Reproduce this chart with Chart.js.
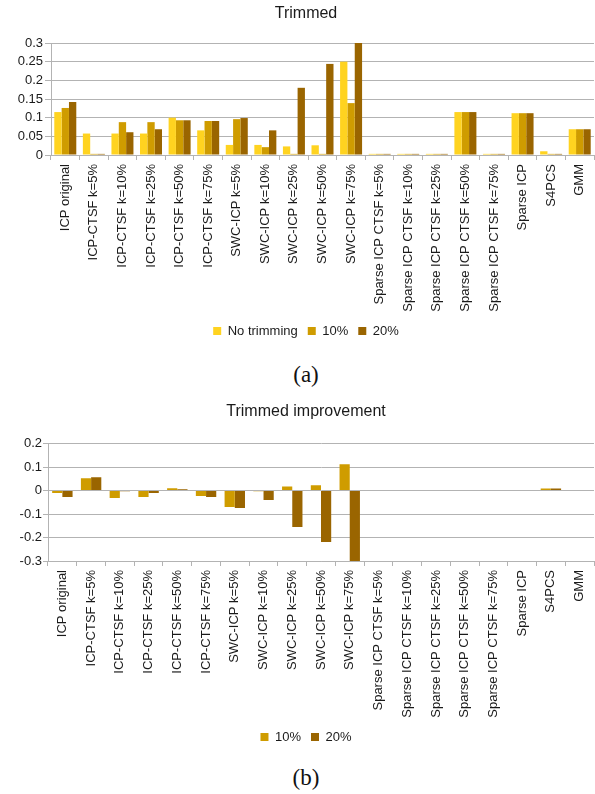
<!DOCTYPE html>
<html>
<head>
<meta charset="utf-8">
<script src="https://cdn.jsdelivr.net/npm/chart.js@4/dist/chart.umd.min.js"></script>
<style>
  html, body { margin: 0; padding: 0; background: #fff; overflow: hidden; width: 595px; height: 794px; }
  .box { position: absolute; left: 0; }
  canvas { display: block; }
  .cap { position: absolute; left: 0; width: 612px; text-align: center;
         font-family: "Liberation Serif", "Times New Roman", serif; font-size: 23px; color: #111; line-height: 26px; }
</style>
</head>
<body>
<div class="box" style="top:0px;"><canvas id="trimmed" width="612" height="350"></canvas></div>
<div class="cap" style="top:362px;">(a)</div>
<div class="box" style="top:390px;"><canvas id="improvement" width="612" height="366"></canvas></div>
<div class="cap" style="top:765px;">(b)</div>
<script>
// Methods compared
const categories = [
  'ICP original', 'ICP-CTSF k=5%', 'ICP-CTSF k=10%', 'ICP-CTSF k=25%', 'ICP-CTSF k=50%',
  'ICP-CTSF k=75%', 'SWC-ICP k=5%', 'SWC-ICP k=10%', 'SWC-ICP k=25%', 'SWC-ICP k=50%',
  'SWC-ICP k=75%', 'Sparse ICP CTSF k=5%', 'Sparse ICP CTSF k=10%', 'Sparse ICP CTSF k=25%',
  'Sparse ICP CTSF k=50%', 'Sparse ICP CTSF k=75%', 'Sparse ICP', 'S4PCS', 'GMM'
];

// (a) error with and without trimming
const noTrimming = [0.115, 0.0575, 0.0575, 0.0575, 0.1, 0.066, 0.027, 0.027, 0.023, 0.026, 0.25,
                    0.003, 0.003, 0.003, 0.115, 0.003, 0.112, 0.01, 0.069];
const trim10 =     [0.126, 0.003, 0.088, 0.088, 0.093, 0.091, 0.096, 0.021, 0.003, 0.003, 0.139,
                    0.003, 0.003, 0.003, 0.115, 0.003, 0.112, 0.003, 0.069];
const trim20 =     [0.142, 0.003, 0.061, 0.069, 0.093, 0.091, 0.099, 0.066, 0.18, 0.244, 0.3,
                    0.003, 0.003, 0.003, 0.115, 0.003, 0.112, 0.003, 0.069];

// (b) improvement brought by trimming
const improve10 = [-0.01, 0.053, -0.031, -0.027, 0.01, -0.023, -0.07, -0.003, 0.018, 0.023, 0.112,
                   -0.002, -0.002, -0.002, -0.002, -0.002, -0.002, 0.009, -0.002];
const improve20 = [-0.027, 0.057, -0.003, -0.01, 0.006, -0.027, -0.074, -0.04, -0.155, -0.219, -0.3,
                   -0.002, -0.002, -0.002, -0.002, -0.002, -0.002, 0.009, -0.002];

// Value axis ticks
const trimmedTicks = [0, 0.05, 0.1, 0.15, 0.2, 0.25, 0.3];
const improvementTicks = [-0.3, -0.2, -0.1, 0, 0.1, 0.2];

const FONT = '"Liberation Sans", Arial, sans-serif';
const TEXT = '#1a1a1a';
const GRID = '#b3b3b3';
const COLORS = { none: '#ffd320', t10: '#cf9c00', t20: '#9a6500' };

function buildChart(id, opts) {
  return new Chart(document.getElementById(id), {
    type: 'bar',
    data: { labels: categories, datasets: opts.datasets },
    options: {
      responsive: false,
      animation: false,
      layout: { padding: { left: 0, right: 0, top: 0, bottom: 2.5 } },
      datasets: { bar: { categoryPercentage: opts.catPct, barPercentage: 1, borderWidth: 0, yAxisID: 'y' } },
      plugins: {
        title: {
          display: true, text: opts.title, color: TEXT,
          font: { family: FONT, size: 16, weight: 'normal' },
          padding: opts.titlePad
        },
        legend: {
          position: 'bottom',
          labels: { boxWidth: 8, boxHeight: 8, padding: 10, color: TEXT, font: { family: FONT, size: 13 } }
        },
        tooltip: { enabled: false }
      },
      scales: {
        x: {
          offset: true,
          grid: { drawOnChartArea: false, drawTicks: true, tickLength: 5, color: GRID, offset: true },
          border: { display: true, color: GRID },
          ticks: { autoSkip: false, minRotation: 90, maxRotation: 90, padding: 4, color: TEXT,
                   font: { family: FONT, size: 13 } },
          afterFit: s => { s.height = 159.5; }
        },
        y: {
          position: 'left',
          min: opts.ticks[0], max: opts.ticks[opts.ticks.length - 1],
          afterBuildTicks: s => { s.ticks = opts.ticks.map(v => ({ value: v })); },
          grid: { color: GRID, lineWidth: 1, tickLength: opts.tickLen, drawTicks: true },
          border: { display: true, color: GRID },
          ticks: { padding: opts.tickPad, color: TEXT, font: { family: FONT, size: 13 },
                   callback: v => String(Math.round(v * 100) / 100) },
          afterFit: s => { s.width = opts.yWidth; }
        },
        // empty strip on the right so the plot ends at the page edge
        pad: {
          type: 'linear', position: 'right', display: true,
          grid: { display: false }, border: { display: false }, ticks: { display: false },
          afterFit: s => { s.width = 18; }
        }
      }
    }
  });
}

buildChart('trimmed', {
  title: 'Trimmed',
  titlePad: { top: 4, bottom: 19.8 },
  ticks: trimmedTicks, yWidth: 51, tickLen: 6, tickPad: 2, catPct: 0.77,
  datasets: [
    { label: 'No trimming', data: noTrimming, backgroundColor: COLORS.none },
    { label: '10%', data: trim10, backgroundColor: COLORS.t10 },
    { label: '20%', data: trim20, backgroundColor: COLORS.t20 }
  ]
});

buildChart('improvement', {
  title: 'Trimmed improvement',
  titlePad: { top: 12.4, bottom: 22.1 },
  ticks: improvementTicks, yWidth: 48, tickLen: 5, tickPad: 1, catPct: 0.71,
  datasets: [
    { label: '10%', data: improve10, backgroundColor: COLORS.t10 },
    { label: '20%', data: improve20, backgroundColor: COLORS.t20 }
  ]
});
</script>
</body>
</html>
